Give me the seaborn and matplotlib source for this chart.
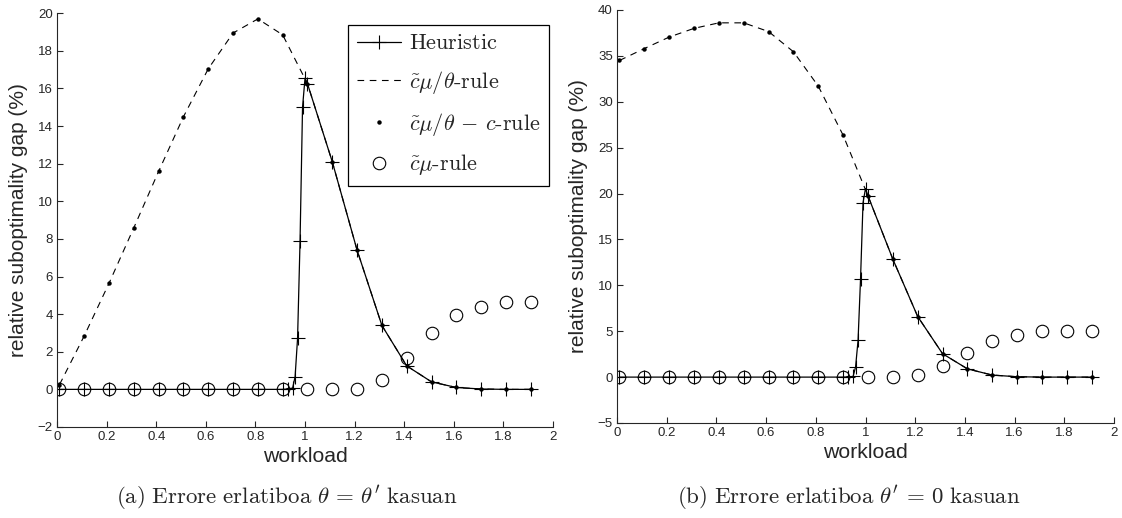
import matplotlib
matplotlib.use("Agg")
import matplotlib.pyplot as plt
import seaborn as sns

# workload grid
load_low = [0.01, 0.11, 0.21, 0.31, 0.41, 0.51, 0.61, 0.71, 0.81, 0.91]
load_peak = [0.93, 0.95, 0.96, 0.97, 0.98, 0.99, 1.00]
load_high = [1.01, 1.11, 1.21, 1.31, 1.41, 1.51, 1.61, 1.71, 1.81, 1.91]

# (a) theta = theta'
heur_a_low = [0, 0, 0, 0, 0, 0, 0, 0, 0, 0]
heur_a_peak = [0.02, 0.07, 0.67, 2.72, 7.9, 15.0, 16.55]
heur_a_high = [16.25, 12.1, 7.4, 3.4, 1.25, 0.4, 0.1, 0.02, 0.0, 0.0]
rule_a_low = [0.25, 2.85, 5.65, 8.6, 11.6, 14.5, 17.05, 18.95, 19.7, 18.85]
rule_a_high = [16.25, 12.1, 7.4, 3.4, 1.25, 0.4, 0.1, 0.02, 0.0, 0.0]
cmu_a_low = [0, 0, 0, 0, 0, 0, 0, 0, 0, 0]
cmu_a_high = [0.0, 0.0, 0.04, 0.5, 1.66, 3.0, 3.93, 4.4, 4.62, 4.65]

# (b) theta' = 0
heur_b_low = [0, 0, 0, 0, 0, 0, 0, 0, 0, 0]
heur_b_peak = [0.02, 0.07, 1.1, 4.0, 10.7, 19.0, 20.55]
heur_b_high = [19.75, 12.85, 6.6, 2.55, 0.9, 0.22, 0.04, 0.0, 0.0, 0.0]
rule_b_low = [34.5, 35.8, 37.05, 38.0, 38.6, 38.6, 37.65, 35.45, 31.7, 26.35]
rule_b_high = [19.75, 12.85, 6.6, 2.55, 0.9, 0.22, 0.04, 0.0, 0.0, 0.0]
cmu_b_low = [0, 0, 0, 0, 0, 0, 0, 0, 0, 0]
cmu_b_high = [0.0, 0.0, 0.22, 1.17, 2.63, 3.9, 4.64, 5.0, 5.07, 5.0]

x_ticks = [0, 0.2, 0.4, 0.6, 0.8, 1, 1.2, 1.4, 1.6, 1.8, 2]
y_ticks_a = [-2, 0, 2, 4, 6, 8, 10, 12, 14, 16, 18, 20]
y_ticks_b = [-5, 0, 5, 10, 15, 20, 25, 30, 35, 40]

legend_labels = [
    r"$\mathrm{Heuristic}$",
    r"$\tilde{c}\mu/\theta\mathrm{\text{-}rule}$",
    r"$\tilde{c}\mu/\theta\,-\,c\mathrm{\text{-}rule}$",
    r"$\tilde{c}\mu\mathrm{\text{-}rule}$",
]
captions = [
    r"$\mathrm{(a)\ Errore\ erlatiboa}\ \theta\,=\,\theta'\ \mathrm{kasuan}$",
    r"$\mathrm{(b)\ Errore\ erlatiboa}\ \theta'\,=\,0\ \mathrm{kasuan}$",
]

sns.set_style("ticks")
plt.rcParams["font.family"] = ["Liberation Sans", "DejaVu Sans"]
plt.rcParams["mathtext.fontset"] = "cm"
plt.rcParams["xtick.direction"] = "in"
plt.rcParams["ytick.direction"] = "in"

TXT = "#262626"


def draw_panel(ax, heur, rule, cmu, yticks):
    heur_x = load_low + load_peak + load_high
    rule_x = load_low + load_high
    h1 = sns.lineplot(x=rule_x, y=cmu, ax=ax, color="k", linestyle="",
                      marker="o", markersize=9, markerfacecolor="none",
                      markeredgecolor="k", markeredgewidth=0.8,
                      estimator=None, sort=False).lines[-1]
    h2 = sns.lineplot(x=heur_x, y=heur, ax=ax, color="k", lw=0.9,
                      marker="+", markersize=10, markeredgewidth=0.8,
                      markeredgecolor="k", estimator=None, sort=False).lines[-1]
    h3 = sns.lineplot(x=rule_x, y=rule, ax=ax, color="k", lw=0.8,
                      linestyle=(0, (6, 5)), estimator=None, sort=False).lines[-1]
    h4 = sns.lineplot(x=rule_x, y=rule, ax=ax, color="k", linestyle="",
                      marker="o", markersize=3.2, markeredgewidth=0,
                      estimator=None, sort=False).lines[-1]

    ax.set_xlim(0, 2)
    ax.set_ylim(yticks[0], yticks[-1])
    ax.set_xticks(x_ticks, [f"{t:g}" for t in x_ticks])
    ax.set_yticks(yticks, [f"{t:g}".replace("-", "\u2212") for t in yticks])
    ax.tick_params(labelsize=9.5, colors=TXT, length=4, width=0.8, pad=3)
    for side in ["left", "bottom"]:
        ax.spines[side].set_linewidth(0.8)
        ax.spines[side].set_color(TXT)
    sns.despine(ax=ax)
    ax.set_xlabel("workload", fontsize=15.3, color=TXT, labelpad=3)
    ax.set_ylabel("relative suboptimality gap (%)", fontsize=15, color=TXT,
                  labelpad=7)
    return [h2, h3, h4, h1]


fig = plt.figure(figsize=(11.22, 5.18), dpi=100)
ax_a = fig.add_axes([0.0508, 0.1757, 0.4421, 0.7987])
ax_b = fig.add_axes([0.5499, 0.1834, 0.4430, 0.7973])

handles = draw_panel(ax_a, heur_a_low + heur_a_peak + heur_a_high,
                     rule_a_low + rule_a_high, cmu_a_low + cmu_a_high, y_ticks_a)
draw_panel(ax_b, heur_b_low + heur_b_peak + heur_b_high,
           rule_b_low + rule_b_high, cmu_b_low + cmu_b_high, y_ticks_b)

leg = ax_a.legend(handles, legend_labels, loc="upper right",
                  bbox_to_anchor=(0.992, 0.9717), borderaxespad=0,
                  fontsize=16, fancybox=False, framealpha=1,
                  edgecolor="k", handlelength=2.0, labelspacing=0.66,
                  borderpad=0.38, handletextpad=0.35)
leg.get_frame().set_linewidth(0.9)

fig.text(0.2558, 0.0386, captions[0], ha="center", va="center", fontsize=16.5)
fig.text(0.7567, 0.0386, captions[1], ha="center", va="center", fontsize=16.5)

fig.savefig("out.png", dpi=100)
